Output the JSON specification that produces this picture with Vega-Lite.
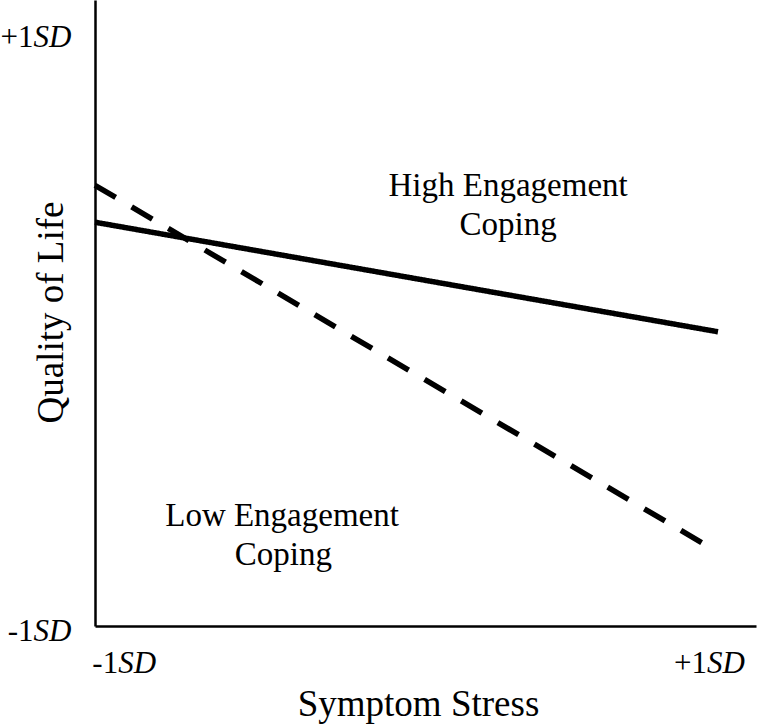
{
  "$schema": "https://vega.github.io/schema/vega-lite/v6.json",
  "width": 661,
  "height": 626,
  "autosize": {"type": "none"},
  "padding": {"left": 95, "top": 0, "right": 1, "bottom": 100},
  "background": "white",
  "config": {"view": {"stroke": null}, "font": "Liberation Serif"},
  "datasets": {
    "lines": [
      {"series": "High", "x": 0, "y": 64.5},
      {"series": "High", "x": 94.25, "y": 47.0},
      {"series": "Low", "x": 0, "y": 70.4},
      {"series": "Low", "x": 92.4, "y": 12.94}
    ],
    "ticklabels": [
      {"x": -9.3, "y": 92.5, "num": "+1", "sd": "SD"},
      {"x": -9.3, "y": -2.4, "num": "-1", "sd": "SD"},
      {"x": 3.5, "y": -7.5, "num": "-1", "sd": "SD"},
      {"x": 92.6, "y": -7.5, "num": "+1", "sd": "SD"}
    ],
    "notes": [
      {"x": 62.5, "y": 68.69, "label": "High Engagement"},
      {"x": 62.5, "y": 62.46, "label": "Coping"},
      {"x": 28.3, "y": 15.97, "label": "Low Engagement"},
      {"x": 28.5, "y": 9.74, "label": "Coping"}
    ]
  },
  "layer": [
    {
      "data": {"name": "lines"},
      "mark": {"type": "line", "color": "black", "strokeWidth": 5.5, "strokeCap": "butt"},
      "encoding": {
        "x": {
          "field": "x", "type": "quantitative",
          "scale": {"domain": [0, 100], "nice": false, "zero": false},
          "axis": {
            "title": "Symptom Stress", "labels": false, "ticks": false, "grid": false,
            "domainColor": "black", "domainWidth": 2.5,
            "titleFont": "Liberation Serif", "titleFontSize": 37, "titleFontWeight": "normal",
            "titleColor": "black", "titleBaseline": "alphabetic", "titlePadding": 89, "titleX": 323
          }
        },
        "y": {
          "field": "y", "type": "quantitative",
          "scale": {"domain": [0, 100], "nice": false, "zero": false},
          "axis": {
            "title": "Quality of Life", "labels": false, "ticks": false, "grid": false,
            "domainColor": "black", "domainWidth": 2.5,
            "titleFont": "Liberation Serif", "titleFontSize": 37, "titleFontWeight": "normal",
            "titleColor": "black", "titleBaseline": "alphabetic", "titlePadding": 33, "titleY": 312
          }
        },
        "detail": {"field": "series"},
        "strokeDash": {
          "field": "series", "type": "nominal",
          "scale": {"domain": ["High", "Low"], "range": [[1, 0], [24, 18.5]]},
          "legend": null
        }
      }
    },
    {
      "data": {"name": "ticklabels"},
      "mark": {"type": "text", "align": "right", "baseline": "alphabetic", "font": "Liberation Serif", "fontSize": 31, "color": "black"},
      "encoding": {
        "x": {"field": "x", "type": "quantitative"},
        "y": {"field": "y", "type": "quantitative"},
        "text": {"field": "num"}
      }
    },
    {
      "data": {"name": "ticklabels"},
      "mark": {"type": "text", "align": "left", "baseline": "alphabetic", "font": "Liberation Serif", "fontSize": 31, "fontStyle": "italic", "color": "black"},
      "encoding": {
        "x": {"field": "x", "type": "quantitative"},
        "y": {"field": "y", "type": "quantitative"},
        "text": {"field": "sd"}
      }
    },
    {
      "data": {"name": "notes"},
      "mark": {"type": "text", "align": "center", "baseline": "alphabetic", "font": "Liberation Serif", "fontSize": 33, "color": "black"},
      "encoding": {
        "x": {"field": "x", "type": "quantitative"},
        "y": {"field": "y", "type": "quantitative"},
        "text": {"field": "label"}
      }
    }
  ]
}
